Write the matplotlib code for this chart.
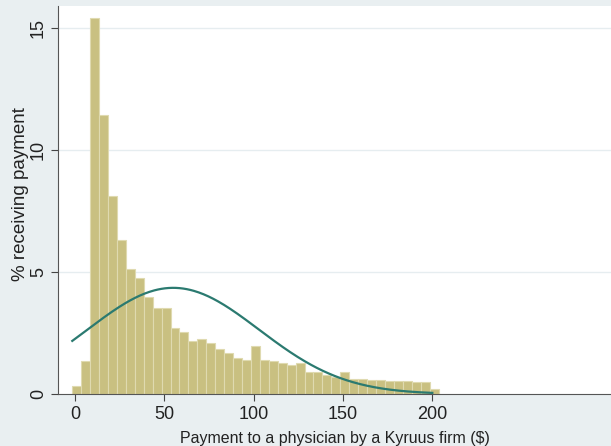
import numpy as np
import matplotlib.pyplot as plt

# histogram bins ($), width 5 starting at the data minimum
bin_start = -1.5
bin_width = 5
# % receiving payment in each bin
pct = [0.33, 1.35, 15.4, 11.43, 8.11, 6.31, 5.13, 4.76, 3.98, 3.51,
       3.51, 2.72, 2.54, 2.19, 2.26, 2.08, 1.83, 1.70, 1.47, 1.38,
       1.98, 1.38, 1.35, 1.28, 1.19, 1.26, 0.90, 0.90, 0.79, 0.71,
       0.91, 0.62, 0.60, 0.58, 0.57, 0.55, 0.54, 0.52, 0.50, 0.48,
       0.22]

# overlaid normal curve
norm_mean = 55.0
norm_sd = 48.0
norm_peak = 4.35

x_ticks = [0, 50, 100, 150, 200]
y_ticks = [0, 5, 10, 15]


def main():
    plt.rcParams['font.family'] = ['Liberation Sans', 'DejaVu Sans']

    fig = plt.figure(figsize=(6.11, 4.46), dpi=100, facecolor='#e9eff1')
    ax = fig.add_axes([0.0949, 0.1166, 0.9051, 0.87])
    ax.set_facecolor('white')

    lefts = bin_start + bin_width * np.arange(len(pct))
    ax.bar(lefts, pct, width=bin_width, align='edge', color='#c9c081',
           edgecolor='#dfdab0', linewidth=0.8, zorder=2)

    xs = np.linspace(bin_start, 200, 300)
    ys = norm_peak * np.exp(-(xs - norm_mean) ** 2 / (2 * norm_sd ** 2))
    ax.plot(xs, ys, color='#2b7a70', linewidth=1.6, zorder=3)

    ax.set_xlim(-9.5, 300)
    ax.set_ylim(0, 15.9)
    ax.set_xticks(x_ticks)
    ax.set_yticks(y_ticks)
    ax.set_yticklabels([str(t) for t in y_ticks], rotation=90, va='center')
    ax.tick_params(axis='both', labelsize=13, color='#444444', length=5,
                   width=0.8, labelcolor='#222222')
    ax.tick_params(axis='y', pad=3)

    for v in y_ticks[1:]:
        ax.axhline(v, color='#e6edf0', linewidth=1.0, zorder=1)

    ax.spines['top'].set_visible(False)
    ax.spines['right'].set_visible(False)
    ax.spines['left'].set_color('#555555')
    ax.spines['bottom'].set_color('#555555')

    ax.set_xlabel("Payment to a physician by a Kyruus firm ($)", fontsize=11.5,
                  color='#222222', labelpad=6)
    ax.set_ylabel("% receiving payment", fontsize=13.5, color='#222222')
    ax.yaxis.set_label_coords(-0.053, 0.515)

    fig.savefig("out.png", dpi=100, facecolor=fig.get_facecolor())
    plt.close(fig)


if __name__ == "__main__":
    main()
